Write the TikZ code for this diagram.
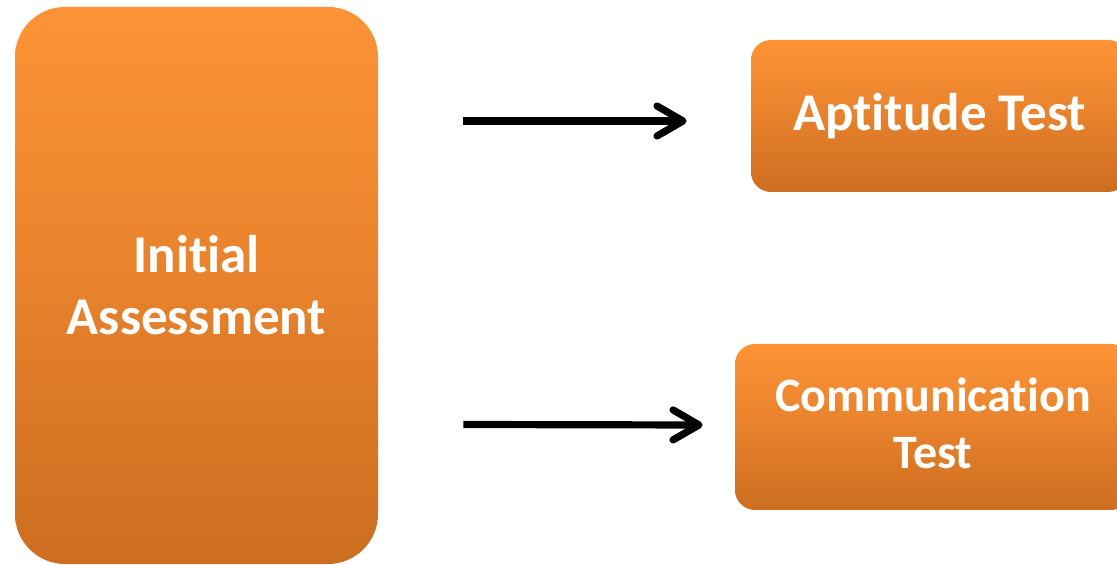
\documentclass[tikz,border=0pt]{standalone}
\usepackage{fontspec}
\setmainfont{Carlito}[RawFeature={-liga;-clig;-dlig}]
\usetikzlibrary{arrows.meta,calc}
\definecolor{orgtop}{RGB}{253,147,54}
\definecolor{orgbot}{RGB}{204,109,32}
\tikzset{
  box/.style={draw=none, top color=orgtop, bottom color=orgbot, middle color=orgtop!55!orgbot,
    text=white, font=\bfseries\fontsize{26.5}{31}\selectfont, align=center, inner sep=0pt},
  arr/.style={line width=3.6pt, -{Straight Barb[length=13pt,width=15pt,round]}}
}
\begin{document}
\begin{tikzpicture}[x=0.5pt,y=-0.5pt]
\useasboundingbox (0,0) rectangle (1117,565);
\node[box, rounded corners=25pt, minimum width=181.5pt, minimum height=278.5pt] (L) at (196.5,285.5) {Initial\\Assessment};
\node[box, rounded corners=10pt, minimum width=188.5pt, minimum height=76pt] (T) at (939.5,116) {Aptitude Test};
\node[box, rounded corners=10pt, minimum width=198pt, minimum height=83pt,
      font=\bfseries\fontsize{24}{28.5}\selectfont] (B) at (933,427) {Communication\\Test\rule[-4pt]{0pt}{0pt}};
\coordinate (a1s) at ($(L.east)+(85,-164.5)$);
\coordinate (a1e) at ($(T.west)+(-64,5)$);
\coordinate (a2s) at ($(L.east)+(85,139)$);
\coordinate (a2e) at ($(B.west)+(-32,-2)$);
\draw[arr] (a1s) -- (a1e);
\draw[arr] (a2s) -- (a2e);
\end{tikzpicture}
\end{document}
